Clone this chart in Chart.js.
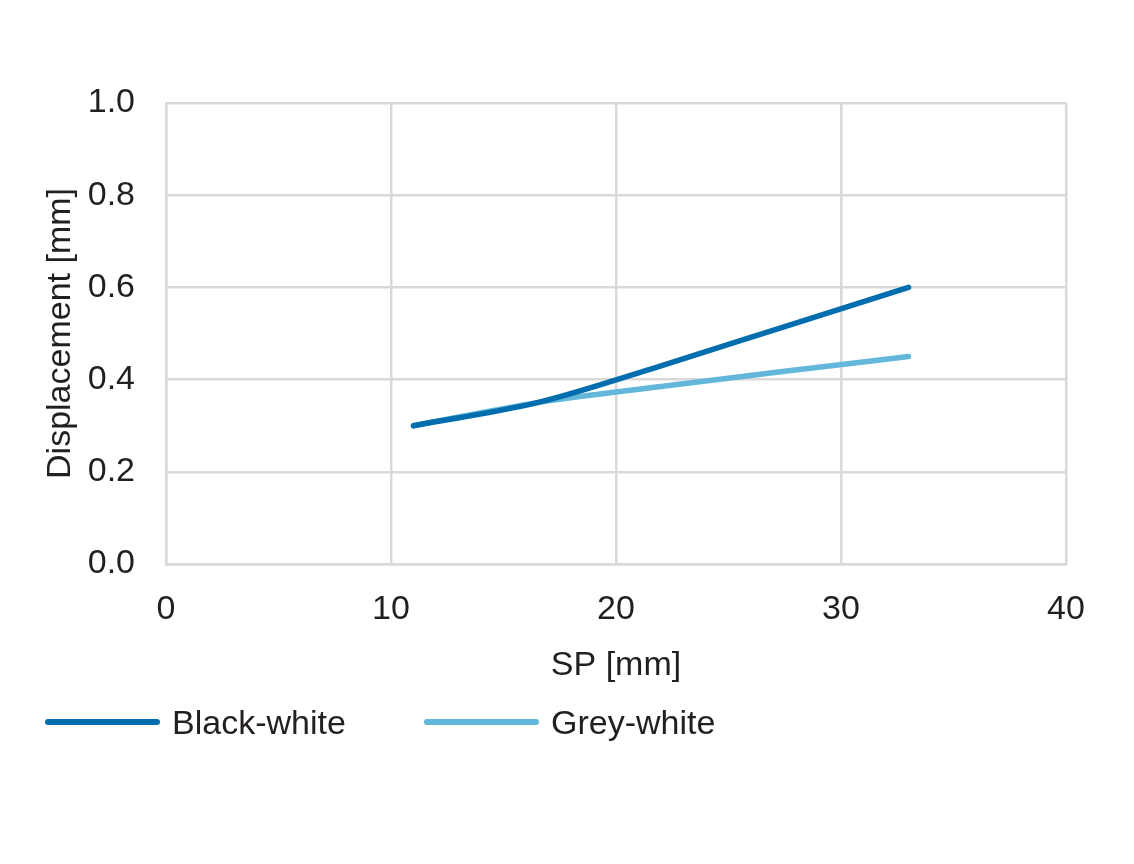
<!DOCTYPE html>
<html>
<head>
<meta charset="utf-8">
<script src="https://cdn.jsdelivr.net/npm/chart.js@4"></script>
<style>
  html, body { margin: 0; padding: 0; background: #fff; }
  #wrap { width: 1134px; height: 864px; position: relative; }
  #legend { position: absolute; left: 45px; top: 700px; height: 44px; font: 34px 'Liberation Sans', Arial, sans-serif; color: #231f20; }
  .item { position: absolute; top: 0; height: 44px; line-height: 44px; white-space: nowrap; }
  .swatch { position: absolute; left: 0; top: 19px; width: 115px; height: 6px; border-radius: 3px; }
  .label { position: absolute; left: 127px; top: 0; }
</style>
</head>
<body>
<div id="wrap"><canvas id="chart"></canvas><div id="legend"></div></div>
<script>
// values
const spValues = [11, 16.5, 22, 27.5, 33];
const blackWhite = [0.30, 0.35, 0.43, 0.515, 0.60];
const greyWhite = [0.30, 0.35, 0.385, 0.418, 0.45];
const seriesNames = ['Black-white', 'Grey-white'];
const seriesColors = ['#006dae', '#63b7da'];
const xTicks = [0, 10, 20, 30, 40];
const yTicks = [0, 0.2, 0.4, 0.6, 0.8, 1.0];

const FONT = "'Liberation Sans', Arial, sans-serif";
const FS = 34;
const TXT = '#231f20';
const GRID = '#d9d9d9';

function toPoints(xs, ys) {
  return xs.map((x, i) => ({ x: x, y: ys[i] }));
}

function makeSet(i, ys) {
  return {
    label: seriesNames[i],
    data: toPoints(spValues, ys),
    borderColor: seriesColors[i],
    backgroundColor: seriesColors[i],
    borderWidth: 5.5,
    pointRadius: 0,
    cubicInterpolationMode: 'monotone',
    borderCapStyle: 'round'
  };
}

const chart = new Chart(document.getElementById('chart'), {
  type: 'line',
  data: { datasets: [makeSet(0, blackWhite), makeSet(1, greyWhite)] },
  options: {
    responsive: true,
    maintainAspectRatio: false,
    animation: false,
    layout: { padding: { left: 36, right: 68, top: 103, bottom: 174 } },
    plugins: {
      legend: { display: false },
      tooltip: { enabled: false }
    },
    scales: {
      x: {
        type: 'linear',
        min: 0,
        max: 40,
        afterBuildTicks: axis => { axis.ticks = xTicks.map(v => ({ value: v })); },
        afterFit: axis => { axis.height = 126; },
        grid: { color: GRID, lineWidth: 2.5, drawTicks: false },
        border: { color: GRID, width: 2.5 },
        ticks: { font: { family: FONT, size: FS }, color: TXT, padding: 25 },
        title: {
          display: true,
          text: 'SP [mm]',
          font: { family: FONT, size: FS },
          color: TXT,
          padding: { top: 8 }
        }
      },
      y: {
        min: 0,
        max: 1,
        afterBuildTicks: axis => { axis.ticks = yTicks.map(v => ({ value: v })); },
        afterFit: axis => { axis.width = 130; },
        grid: { color: GRID, lineWidth: 2.5, drawTicks: false },
        border: { color: GRID, width: 2.5 },
        ticks: {
          font: { family: FONT, size: FS },
          color: TXT,
          padding: 31,
          callback: v => v.toFixed(1)
        },
        title: {
          display: true,
          text: 'Displacement [mm]',
          font: { family: FONT, size: FS },
          color: TXT,
          padding: { bottom: 0 }
        }
      }
    }
  }
});

// legend built from the datasets
const legend = document.getElementById('legend');
const itemLeft = [0, 379];
chart.data.datasets.forEach((ds, i) => {
  const item = document.createElement('div');
  item.className = 'item';
  item.style.left = itemLeft[i] + 'px';
  item.innerHTML = '<span class="swatch" style="background:' + ds.borderColor + '"></span><span class="label">' + ds.label + '</span>';
  legend.appendChild(item);
});
</script>
</body>
</html>
